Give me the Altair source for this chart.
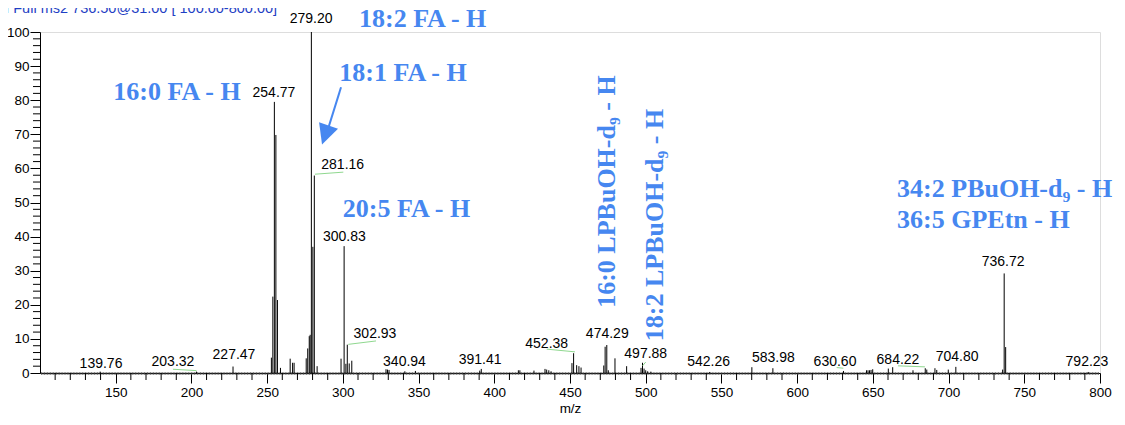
import altair as alt
import pandas as pd

W, H = 1060, 341
BLUE = "#4687F0"
GREEN = "#8fd88f"

# ---- spectrum sticks (m/z, relative intensity %) ----
peak_mz = [139.76, 203.32, 227.47, 252.8, 253.77, 254.77, 255.77, 256.8, 258.8,
           265.2, 266.8, 267.8, 275.8, 276.8, 277.8, 278.4, 279.20, 280.2, 281.16, 283.0,
           298.8, 300.83, 302.0, 302.93, 304.2, 305.9, 328.5, 329.5, 330.5, 340.94, 347.9,
           390.4, 391.41, 415.9, 416.9, 426.2, 433.5, 434.6, 436.0, 437.5,
           451.3, 452.38, 454.4, 455.9, 457.3, 472.3, 473.2, 474.29, 475.3, 479.7, 487.4,
           496.9, 497.88, 498.9, 500.0, 501.3, 503.4, 542.26, 570.1, 583.98, 630.60,
           645.8, 646.8, 647.8, 648.8, 649.9, 660.2, 663.1, 676.5, 684.6, 685.6, 691.0,
           692.2, 699.8, 704.80, 735.7, 736.72, 737.7, 792.23]
peak_int = [0.4, 0.4, 1.9, 4.5, 22.4, 79.5, 69.8, 21.4, 1.5,
            4.2, 3.0, 3.0, 4.3, 7.2, 10.8, 11.2, 100.0, 37.0, 57.9, 2.0,
            4.2, 37.2, 2.7, 8.3, 2.8, 3.6, 1.1, 1.0, 0.9, 0.5, 0.6,
            0.7, 1.2, 0.8, 0.8, 0.7, 1.2, 1.0, 0.8, 0.5,
            2.9, 5.8, 2.3, 2.0, 1.6, 2.2, 7.7, 8.2, 0.8, 4.3, 2.0,
            1.5, 3.0, 1.3, 0.8, 0.5, 0.4, 0.3, 1.7, 1.4, 0.6,
            0.8, 0.8, 0.8, 0.9, 1.1, 1.3, 1.7, 0.8, 1.4, 1.0, 1.4,
            0.9, 1.0, 1.8, 1.0, 29.2, 7.6, 0.3]

# ---- peak labels ----
label_text = ["139.76", "203.32", "227.47", "254.77", "279.20", "281.16", "300.83",
              "302.93", "340.94", "391.41", "452.38", "474.29", "497.88", "542.26",
              "583.98", "630.60", "684.22", "704.80", "736.72", "792.23"]
label_mz = [140.3, 187.8, 228.1, 254.5, 279.0, 299.9, 301.0, 321.2, 340.7, 390.6,
            434.6, 474.6, 500.0, 541.5, 584.3, 625.0, 666.6, 705.6, 736.0, 791.4]
label_int = [2.6, 3.3, 5.3, 82.0, 103.8, 61.0, 39.8, 11.4, 3.3, 3.8,
             8.4, 11.4, 5.6, 3.3, 4.3, 3.1, 3.8, 4.7, 32.6, 3.3]

# ---- green label leaders ----
lead_mz = [187.8, 281.6, 303.6, 434.6, 497.9, 626.1, 666.6]
lead_int = [1.1, 58.3, 8.4, 7.0, 2.1, 1.6, 2.1]
lead_mz2 = [203.3, 300.3, 321.9, 453.3, 500.0, 630.5, 684.4]
lead_int2 = [0.7, 58.9, 9.4, 6.2, 3.2, 1.4, 1.8]

# ---- blue annotations ----
ann_text = ["18:2 FA - H", "16:0 FA - H", "18:1 FA - H", "20:5 FA - H"]
ann_mz = [352.7, 190.5, 339.7, 342.0]
ann_int = [103.9, 82.5, 88.0, 48.1]

ann2_text = ["34:2 PBuOH-d\u2089 - H", "36:5 GPEtn - H"]
ann2_mz = [666.0, 666.0]
ann2_int = [54.1, 44.9]

vann_text = ["16:0 LPBuOH-d\u2089 - H", "18:2 LPBuOH-d\u2089 - H"]
vann_mz = [474.2, 506.1]
vann_int = [53.2, 43.4]

arrow_mz, arrow_int, arrow_mz2, arrow_int2 = [298.8], [83.8], [290.8], [72.4]
head_mz, head_int = [288.4], [69.8]

header = "F: - p ESI Full ms2 736.50@31.00 [ 100.00-800.00]"

xscale = alt.Scale(domain=[100, 800], nice=False, zero=False)
yscale = alt.Scale(domain=[0, 100], nice=False, zero=False)
xaxis = alt.Axis(values=list(range(150, 801, 50)), tickSize=10, labelFontSize=13.5,
                 labelFont="Liberation Sans", labelColor="black", labelPadding=2,
                 domainColor="black", tickColor="black", grid=False,
                 title="m/z", titleFont="Liberation Sans", titleFontSize=13.5,
                 titleFontWeight="normal", titleColor="black", titlePadding=3, labelFlush=False)
yaxis = alt.Axis(values=list(range(0, 101, 10)), tickSize=10, labelFontSize=13.5,
                 labelFont="Liberation Sans", labelColor="black", labelPadding=1,
                 domainColor="black", tickColor="black", grid=False, title=None)

X = lambda f: alt.X(f, type="quantitative", scale=xscale, axis=xaxis)
Y = lambda f: alt.Y(f, type="quantitative", scale=yscale, axis=yaxis)

peaks_df = pd.DataFrame({"mz": peak_mz, "inten": peak_int, "base": [0] * len(peak_mz)})
peaks = alt.Chart(peaks_df).mark_rule(color="black", strokeWidth=1).encode(
    x=X("mz"), y=Y("inten"), y2="base")

# minor ticks
t1 = alt.Chart(pd.DataFrame({"mz": list(range(101, 800))})).mark_rule(
    color="#555555", strokeWidth=0.7).encode(x=X("mz"), y=alt.value(H - 1), y2=alt.value(H + 2))
t10 = alt.Chart(pd.DataFrame({"mz": [v for v in range(110, 800, 10) if v % 50]})).mark_rule(
    color="black", strokeWidth=1).encode(x=X("mz"), y=alt.value(H), y2=alt.value(H + 7))
ty = alt.Chart(pd.DataFrame({"inten": [v for v in range(2, 100, 2) if v % 10]})).mark_rule(
    color="black", strokeWidth=1).encode(y=Y("inten"), x=alt.value(-7), x2=alt.value(0))

labels = alt.Chart(pd.DataFrame({"mz": label_mz, "inten": label_int, "t": label_text})).mark_text(
    font="Liberation Sans", fontSize=14, color="black", align="center", baseline="middle").encode(
    x=X("mz"), y=Y("inten"), text="t:N")

leads = alt.Chart(pd.DataFrame({"mz": lead_mz, "inten": lead_int, "mz2": lead_mz2,
                                "inten2": lead_int2})).mark_rule(color=GREEN, strokeWidth=1).encode(
    x=X("mz"), y=Y("inten"), x2="mz2", y2="inten2")

ann = alt.Chart(pd.DataFrame({"mz": ann_mz, "inten": ann_int, "t": ann_text})).mark_text(
    font="Liberation Serif", fontWeight="bold", fontSize=26, color=BLUE, align="center",
    baseline="middle").encode(x=X("mz"), y=Y("inten"), text="t:N")

ann2 = alt.Chart(pd.DataFrame({"mz": ann2_mz, "inten": ann2_int, "t": ann2_text})).mark_text(
    font="Liberation Serif", fontWeight="bold", fontSize=26, color=BLUE, align="left",
    baseline="middle").encode(x=X("mz"), y=Y("inten"), text="t:N")

vann = alt.Chart(pd.DataFrame({"mz": vann_mz, "inten": vann_int, "t": vann_text})).mark_text(
    font="Liberation Serif", fontWeight="bold", fontSize=26, color=BLUE, align="center",
    baseline="middle", angle=270).encode(x=X("mz"), y=Y("inten"), text="t:N")

arrow = alt.Chart(pd.DataFrame({"mz": arrow_mz, "inten": arrow_int, "mz2": arrow_mz2,
                                "inten2": arrow_int2})).mark_rule(color=BLUE, strokeWidth=2).encode(
    x=X("mz"), y=Y("inten"), x2="mz2", y2="inten2")
head = alt.Chart(pd.DataFrame({"mz": head_mz, "inten": head_int})).mark_point(
    shape="M-1,-1L1,-1L0,1Z", size=400, filled=True, color=BLUE, opacity=1, angle=19,
    strokeWidth=0).encode(x=X("mz"), y=Y("inten"))

title = alt.Chart(pd.DataFrame({"t": [header]})).mark_text(
    font="Liberation Sans", fontSize=14.5, color="#1f3fc4", align="left", baseline="alphabetic").encode(
    x=alt.value(-92), y=alt.value(-19), text="t:N")

chart = alt.layer(t1, t10, ty, peaks, leads, labels, ann, ann2, vann, arrow, head, title).properties(
    width=W, height=H,
    autosize=alt.AutoSizeParams(type="none"),
    padding={"left": 32, "top": 24, "right": 17, "bottom": 44},
).configure_view(stroke=None).configure(background="white")

chart.save("out.html", embed_options={"renderer": "svg", "actions": False})
